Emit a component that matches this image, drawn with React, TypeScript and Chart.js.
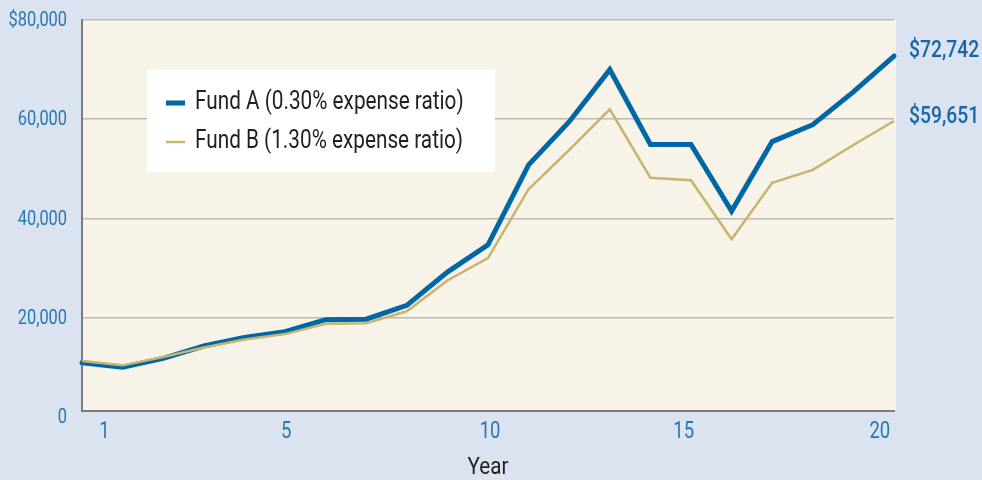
import React, { useEffect, useRef } from 'react';
import { Chart, registerables } from 'chart.js';

Chart.register(...registerables);

const years = [0, 1, 2, 3, 4, 5, 6, 7, 8, 9, 10, 11, 12, 13, 14, 15, 16, 17, 18, 19, 20];
const fundA = [10900, 10000, 11800, 14300, 16000, 17200, 19600, 19700, 22500, 29200, 34700, 50800, 59500, 70000, 54900, 54900, 41500, 55500, 58900, 65500, 72742];
const fundB = [11300, 10400, 12100, 14000, 15600, 16700, 18800, 18900, 21300, 27500, 32000, 45900, 53800, 62000, 48200, 47700, 35800, 47200, 49800, 54800, 59651];
const seriesNames = ['Fund A (0.30% expense ratio)', 'Fund B (1.30% expense ratio)'];
const xTickValues = [0.55, 5.03, 10.05, 14.82, 19.65];
const xTickLabels = ['1', '5', '10', '15', '20'];
const yTickValues = [0, 20000, 40000, 60000, 80000];
const yTickLabels = ['0', '20,000', '40,000', '60,000', '$80,000'];
const xTitle = 'Year';

const BLUE = '#0067a6';
const TAN = '#c8b46c';
const TICK = '#2677b6';
const BG = '#dce3f0';
const CREAM = '#f7f3e9';
const DARK = '#231f20';
const FONT = "Roboto, 'Noto Sans', sans-serif";

function condensedText(
  ctx: CanvasRenderingContext2D,
  text: string,
  x: number,
  y: number,
  opts: { size: number; sx: number; color: string; align: CanvasTextAlign; weight?: string }
) {
  ctx.save();
  ctx.translate(x, y);
  ctx.scale(opts.sx, 1);
  ctx.font = `${opts.weight || 'normal'} ${opts.size}px ${FONT}`;
  ctx.fillStyle = opts.color;
  ctx.textAlign = opts.align;
  ctx.textBaseline = 'middle';
  ctx.fillText(text, 0, 0);
  ctx.restore();
}

const plotBg = {
  id: 'plotBg',
  beforeDraw(chart: any) {
    const { ctx, chartArea: a } = chart;
    ctx.save();
    ctx.fillStyle = CREAM;
    ctx.fillRect(a.left, a.top, a.right - a.left + 2, a.bottom - a.top);
    ctx.restore();
  },
};

const overlay = {
  id: 'overlay',
  afterDraw(chart: any) {
    const { ctx, chartArea: a, scales } = chart;
    // axis tick labels
    yTickValues.forEach((v, i) => {
      condensedText(ctx, yTickLabels[i], a.left - 15, scales.y.getPixelForValue(v) + 1, {
        size: 21, sx: 0.78, color: TICK, align: 'right',
      });
    });
    xTickValues.forEach((v, i) => {
      condensedText(ctx, xTickLabels[i], scales.x.getPixelForValue(v), a.bottom + 21, {
        size: 24, sx: 0.77, color: TICK, align: 'center',
      });
    });
    condensedText(ctx, xTitle, (a.left + a.right) / 2, a.bottom + 57, {
      size: 24, sx: 0.86, color: DARK, align: 'center',
    });

    // legend box
    ctx.save();
    const lx = a.left + 65;
    const ly = a.top + 50;
    ctx.fillStyle = '#ffffff';
    ctx.fillRect(lx, ly, 348, 102);
    ctx.lineCap = 'butt';
    ctx.strokeStyle = BLUE;
    ctx.lineWidth = 5;
    ctx.beginPath();
    ctx.moveTo(lx + 19, ly + 33);
    ctx.lineTo(lx + 38, ly + 33);
    ctx.stroke();
    ctx.strokeStyle = TAN;
    ctx.lineWidth = 2.5;
    ctx.beginPath();
    ctx.moveTo(lx + 19, ly + 72);
    ctx.lineTo(lx + 38, ly + 72);
    ctx.stroke();
    ctx.restore();
    condensedText(ctx, seriesNames[0], lx + 48, ly + 33, { size: 25, sx: 0.83, color: DARK, align: 'left' });
    condensedText(ctx, seriesNames[1], lx + 48, ly + 72, { size: 25, sx: 0.83, color: DARK, align: 'left' });

    // end labels
    const lastA = fundA[fundA.length - 1];
    const lastB = fundB[fundB.length - 1];
    condensedText(ctx, '$' + lastA.toLocaleString('en-US'), a.right + 15, scales.y.getPixelForValue(lastA) - 5, {
      size: 23, sx: 0.84, color: '#1767a8', align: 'left', weight: '500',
    });
    condensedText(ctx, '$' + lastB.toLocaleString('en-US'), a.right + 15, scales.y.getPixelForValue(lastB) - 4, {
      size: 23, sx: 0.84, color: '#1767a8', align: 'left', weight: '500',
    });
  },
};

export default function App() {
  const ref = useRef<HTMLCanvasElement | null>(null);
  useEffect(() => {
    document.body.style.margin = '0';
    const chart = new Chart(ref.current as HTMLCanvasElement, {
      type: 'line',
      data: {
        datasets: [
          {
            label: seriesNames[0],
            data: years.map((x, i) => ({ x, y: fundA[i] })),
            borderColor: BLUE,
            borderWidth: 5,
            borderCapStyle: 'round',
            borderJoinStyle: 'miter',
            pointRadius: 0,
            tension: 0,
            clip: false,
            order: 2,
          },
          {
            label: seriesNames[1],
            data: years.map((x, i) => ({ x, y: fundB[i] })),
            borderColor: TAN,
            borderWidth: 2.5,
            pointRadius: 0,
            tension: 0,
            clip: false,
            order: 1,
          },
        ],
      },
      options: {
        animation: false,
        responsive: true,
        maintainAspectRatio: false,
        layout: { padding: { top: 20, right: 88, left: 0, bottom: 0 } },
        plugins: { legend: { display: false }, tooltip: { enabled: false } },
        scales: {
          x: {
            type: 'linear',
            min: 0,
            max: 20,
            grid: { display: false, drawTicks: false },
            border: { display: true, color: '#7b7b7b', width: 2 },
            afterBuildTicks: (s: any) => {
              s.ticks = xTickValues.map((v) => ({ value: v }));
            },
            afterFit: (s: any) => {
              s.height = 69;
            },
            ticks: { display: false },
          },
          y: {
            type: 'linear',
            min: 1200,
            max: 80000,
            afterBuildTicks: (s: any) => {
              s.ticks = yTickValues.map((v) => ({ value: v }));
            },
            afterFit: (s: any) => {
              s.width = 82;
            },
            grid: {
              drawTicks: false,
              lineWidth: 1.5,
              color: (c: any) => (c.tick && c.tick.value === 0 ? 'rgba(0,0,0,0)' : '#bdbab3'),
            },
            border: { display: true, color: '#7b7b7b', width: 2 },
            ticks: { display: false },
          },
        },
      },
      plugins: [plotBg, overlay],
    } as any);
    return () => chart.destroy();
  }, []);
  return (
    <div style={{ width: 982, height: 480, background: BG, position: 'relative' }}>
      <canvas ref={ref} />
    </div>
  );
}
